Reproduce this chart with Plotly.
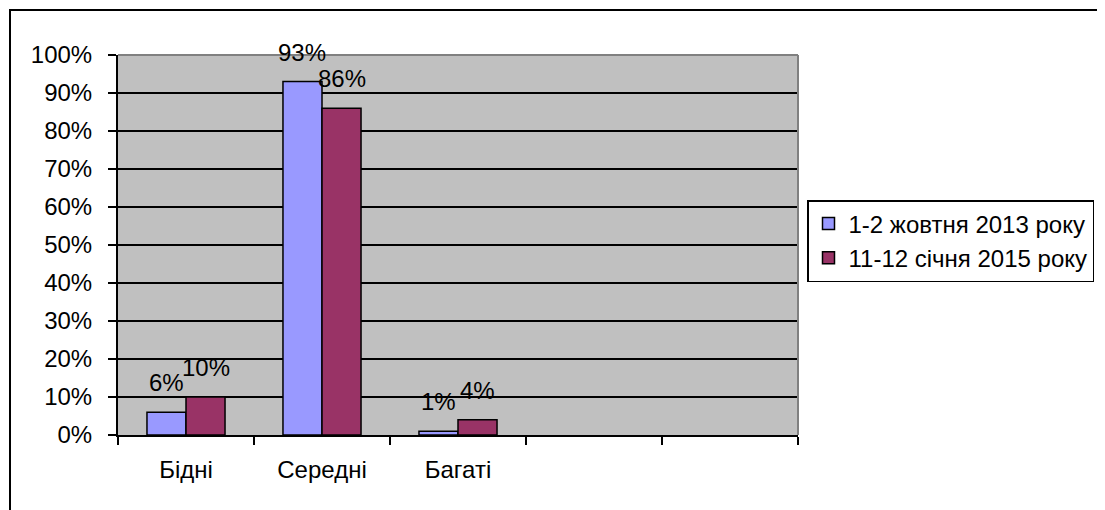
import plotly.graph_objects as go

categories = ["Бідні", "Середні", "Багаті", " ", "  "]
series_names = ["1-2 жовтня 2013 року", "11-12 січня 2015 року"]
values_2013 = [6, 93, 1, None, None]
values_2015 = [10, 86, 4, None, None]
colors = ["#9999FF", "#993366"]
y_ticks = [0, 10, 20, 30, 40, 50, 60, 70, 80, 90, 100]
y_tick_labels = [f"{v}%" for v in y_ticks]

FONT = "Liberation Sans, Arial, sans-serif"
FS = 24

# page has an 8px body margin; figure is sized to fit the window
W, H = 1097, 502
L, T, R, B = 110, 47, 307, 75
plot_w = W - L - R
plot_h = H - T - B

fig = go.Figure()
for name, vals, col in zip(series_names, [values_2013, values_2015], colors):
    fig.add_trace(go.Bar(
        x=categories, y=vals, name=name,
        marker=dict(color=col, line=dict(color="black", width=1.5)),
    ))

cat_px = plot_w / len(categories)
bargap = 0.426
bar_px = cat_px * (1 - bargap) / 2
for vals, sign in zip([values_2013, values_2015], [-1, 1]):
    for c, v in zip(categories, vals):
        if v is None:
            continue
        fig.add_annotation(
            x=c, y=v, xref="x", yref="y", text=f"{v}%", showarrow=False,
            xshift=sign * bar_px / 2, yshift=14, yanchor="bottom",
            font=dict(family=FONT, size=FS, color="black"),
        )

fig.update_layout(
    width=W, height=H,
    margin=dict(l=L, r=R, t=T, b=B, autoexpand=False),
    paper_bgcolor="white", plot_bgcolor="#C0C0C0",
    barmode="group", bargap=bargap, bargroupgap=0,
    font=dict(family=FONT, size=FS, color="black"),
    showlegend=True,
    legend=dict(
        x=(799 - L) / plot_w, xanchor="left", y=(T + plot_h - 233) / plot_h, yanchor="middle",
        bgcolor="white", bordercolor="black", borderwidth=1.5,
        font=dict(family=FONT, size=FS, color="black"),
        tracegroupgap=0,
    ),
    xaxis=dict(
        categoryorder="array", categoryarray=categories,
        showline=True, linecolor="black", linewidth=2,
        ticks="outside", ticklen=8, tickwidth=1.5, tickcolor="black",
        tickson="boundaries", showgrid=False, ticklabelstandoff=12,
        tickfont=dict(family=FONT, size=FS, color="black"),
        range=[-0.5, 4.5], fixedrange=True,
    ),
    yaxis=dict(
        range=[0, 100], tickvals=y_ticks, ticktext=y_tick_labels,
        showline=True, linecolor="black", linewidth=2,
        ticks="outside", ticklen=8, tickwidth=1.5, tickcolor="black",
        showgrid=True, gridcolor="black", gridwidth=1.5,
        zeroline=False, ticklabelstandoff=11,
        tickfont=dict(family=FONT, size=FS, color="black"),
    ),
    shapes=[
        dict(type="line", xref="paper", yref="paper", x0=0, x1=1, y0=1, y1=1,
             line=dict(color="#808080", width=2), layer="above"),
        dict(type="line", xref="paper", yref="paper", x0=1, x1=1, y0=0, y1=1,
             line=dict(color="#808080", width=2), layer="above"),
        dict(type="rect", xref="paper", yref="paper",
             x0=(2 - L) / plot_w, x1=2, y0=-1, y1=(T + plot_h - 2) / plot_h,
             line=dict(color="black", width=2), layer="below"),
    ],
)

fig.write_html("out.html")
